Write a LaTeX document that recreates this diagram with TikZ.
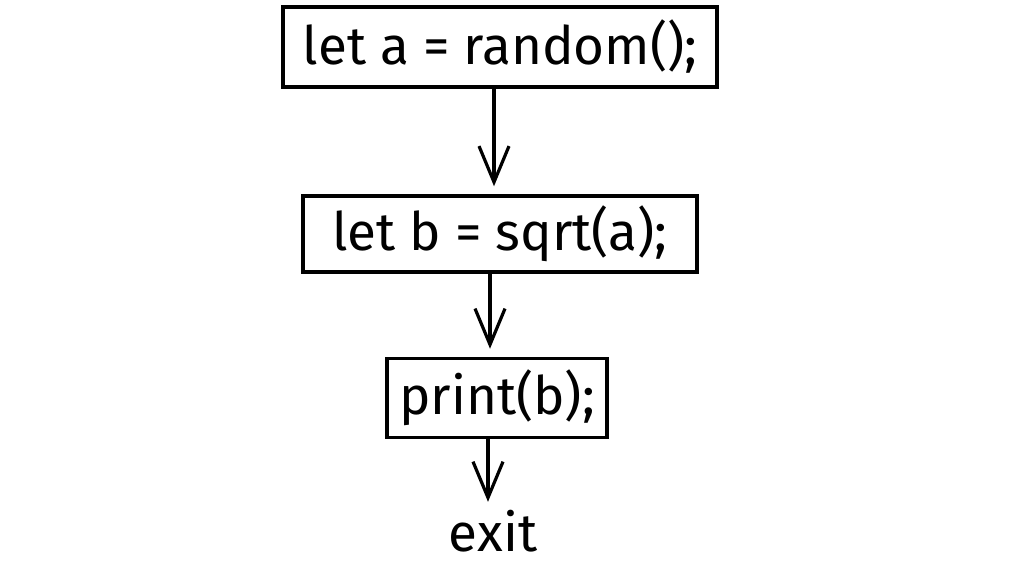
\documentclass[tikz,border=0pt]{standalone}
\usepackage{fontspec}
\setmainfont{Fira Sans}
\usetikzlibrary{arrows.meta}
\begin{document}
\begin{tikzpicture}[x=1pt,y=-1pt,
  box/.style={draw,line width=3.5pt,inner sep=0pt,font=\fontsize{53}{60}\selectfont},
  flow/.style={line width=3.2pt,shorten >=8pt,-{Straight Barb[length=36pt,width=30pt]}}]
\useasboundingbox (0,0) rectangle (1024,565);
\node[box,minimum width=434,minimum height=80](a) at (500,47) {let a = random();};
\node[box,minimum width=394,minimum height=76](b) at (500,234) {let b = sqrt(a);};
\node[box,minimum width=220,minimum height=79](c) at (497,398) {print(b);};
\node[font=\fontsize{53}{60}\selectfont,inner sep=0pt](exit) at (493,531) {exit};
\foreach \u/\v/\s in {a/b/-6,b/c/-10,c/exit/-9}
{
    \draw[flow]([xshift=\s]\u.south)--([xshift=\s]\u.south |- \v.north);
}
\end{tikzpicture}
\end{document}
